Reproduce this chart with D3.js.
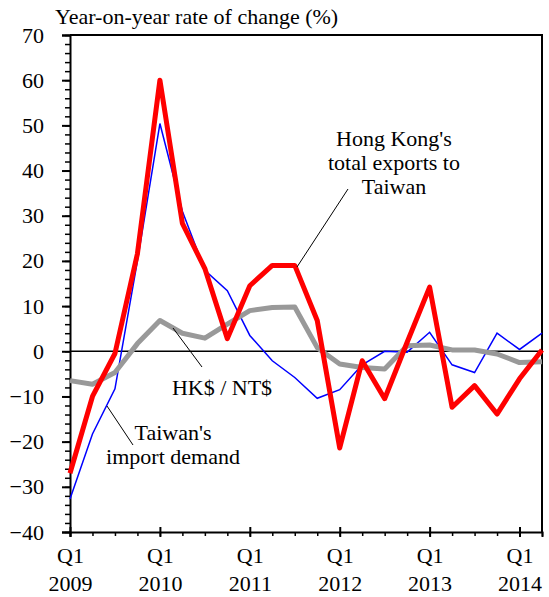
<!DOCTYPE html>
<html>
<head>
<meta charset="utf-8">
<script src="https://cdn.jsdelivr.net/npm/d3@7"></script>
<style>
  body { margin: 0; background: #fff; }
</style>
</head>
<body>
<div id="chart-area"></div>
<script>
// quarters Q1 2009 .. Q2 2014
var quarters = d3.range(22);
var yearLabels = ["2009", "2010", "2011", "2012", "2013", "2014"];

// Hong Kong's total exports to Taiwan (red)
var hkExports = [-27, -10, -0.5, 21.6, 60, 28.3, 18.3, 2.8, 14.5, 19, 19, 6.8,
                 -21.4, -2.1, -10.5, 2, 14.2, -12.4, -7.6, -13.9, -6.1, 0.3];
// Taiwan's import demand (blue)
var twImports = [-32.7, -18.3, -8.3, 20, 50.4, 31, 17.9, 13.4, 3.5, -2.1, -5.8, -10.4,
                 -8.5, -3, 0, -0.2, 4.2, -3, -4.7, 4, 0.4, 4];
// HK$ / NT$ (grey)
var hkdNtd = [-6.5, -7.3, -4.7, 1.7, 6.8, 4, 2.9, 6, 9, 9.7, 9.8, 0.8,
              -2.8, -3.6, -3.9, 1.2, 1.4, 0.3, 0.3, -0.6, -2.5, -2.3];

var serif = "'Liberation Serif'";
var fontSize = "22px";

var margin = { left: 70, right: 7, top: 35, bottom: 65 },
    width = 549 - margin.left - margin.right,
    height = 597 - margin.top - margin.bottom;

var svg = d3.select("#chart-area")
    .append("svg")
    .attr("width", 549)
    .attr("height", 597);

var g = svg.append("g")
    .attr("transform", "translate(" + margin.left + "," + margin.top + ")");

var x = d3.scaleLinear()
    .domain([0, 21])
    .range([0, width]);

var y = d3.scaleLinear()
    .domain([-40, 70])
    .range([height, 0]);

// title
svg.append("text")
    .attr("x", 55)
    .attr("y", 24)
    .style("font-family", serif)
    .style("font-size", fontSize)
    .text("Year-on-year rate of change (%)");

// frame top + right
g.append("path")
    .attr("d", "M0,0H" + width + "V" + height)
    .attr("fill", "none")
    .attr("stroke", "#000")
    .attr("stroke-width", 2);

// minor y ticks
g.append("g")
    .call(d3.axisLeft(y).tickValues(d3.range(-40, 71, 2)).tickSize(5).tickFormat(""))
    .call(function(a) { a.select(".domain").remove(); })
    .selectAll("line").attr("stroke-width", 1.5);

// major y axis
var yAxis = g.append("g")
    .call(d3.axisLeft(y).tickValues(d3.range(-40, 71, 10)).tickSize(8).tickPadding(18));
yAxis.select(".domain").attr("stroke-width", 2);
yAxis.selectAll("line").attr("stroke-width", 2);
yAxis.selectAll("text")
    .style("font-family", serif)
    .style("font-size", fontSize)
    .attr("fill", "#000");

// minor x ticks
g.append("g")
    .attr("transform", "translate(0," + height + ")")
    .call(d3.axisBottom(x).tickValues(quarters).tickSize(4).tickFormat(""))
    .call(function(a) { a.select(".domain").remove(); })
    .selectAll("line").attr("stroke-width", 1.5);

// major x axis (year starts), ticks cross the axis
var xAxis = g.append("g")
    .attr("transform", "translate(0," + height + ")")
    .call(d3.axisBottom(x).tickValues([0, 4, 8, 12, 16, 20]).tickSize(5).tickFormat(""));
xAxis.select(".domain").attr("stroke-width", 2);
xAxis.selectAll("line").attr("y1", -5).attr("stroke-width", 2);

xAxis.selectAll(".tick").each(function(d, i) {
    var t = d3.select(this).append("text")
        .attr("text-anchor", "middle")
        .attr("fill", "#000")
        .style("font-family", serif)
        .style("font-size", fontSize);
    t.append("tspan").attr("x", 0).attr("y", 31).text("Q1");
    t.append("tspan").attr("x", 0).attr("y", 59).text(yearLabels[i]);
});

// zero line
g.append("line")
    .attr("x1", 0).attr("x2", width)
    .attr("y1", y(0)).attr("y2", y(0))
    .attr("stroke", "#000")
    .attr("stroke-width", 1.5);

var line = d3.line()
    .x(function(d, i) { return x(i); })
    .y(function(d) { return y(d); });

g.append("path")
    .datum(twImports)
    .attr("fill", "none")
    .attr("stroke", "#0000ff")
    .attr("stroke-width", 1.5)
    .attr("d", line);

g.append("path")
    .datum(hkdNtd)
    .attr("fill", "none")
    .attr("stroke", "#999999")
    .attr("stroke-width", 5)
    .attr("stroke-linejoin", "round")
    .attr("d", line);

g.append("path")
    .datum(hkExports)
    .attr("fill", "none")
    .attr("stroke", "#ff0000")
    .attr("stroke-width", 5)
    .attr("stroke-linejoin", "round")
    .attr("d", line);

// annotations
function label(lines, cx, y0, dy) {
    var t = svg.append("text")
        .attr("text-anchor", "middle")
        .style("font-family", serif)
        .style("font-size", fontSize);
    lines.forEach(function(s, i) {
        t.append("tspan").attr("x", cx).attr("y", y0 + i * dy).text(s);
    });
}

function leader(x1, y1, x2, y2) {
    svg.append("line")
        .attr("x1", x1).attr("y1", y1)
        .attr("x2", x2).attr("y2", y2)
        .attr("stroke", "#000")
        .attr("stroke-width", 1);
}

label(["Hong Kong's", "total exports to", "Taiwan"], 394, 146, 24);
leader(348, 189, 297, 267);

label(["HK$ / NT$"], 222, 395, 24);
leader(173, 328, 202, 367);

label(["Taiwan's", "import demand"], 173, 440, 24);
leader(107, 406, 133, 445);
</script>
</body>
</html>
